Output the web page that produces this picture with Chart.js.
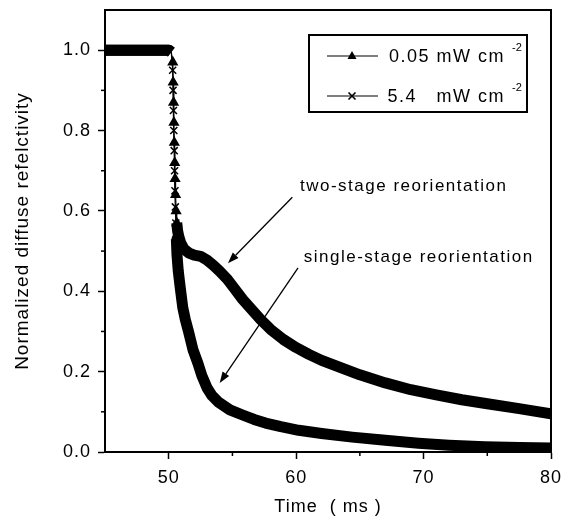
<!DOCTYPE html>
<html><head><meta charset="utf-8">
<script src="https://cdn.jsdelivr.net/npm/chart.js@4.4.1/dist/chart.umd.min.js"></script>
<style>html,body{margin:0;padding:0;background:#fff}#wrap{width:561px;height:520px;position:relative}</style>
</head><body><div id="wrap"><canvas id="c" width="561" height="520"></canvas></div>
<script>
// ---- data ----
const seriesLabels = ['0.05 mW cm', '5.4   mW cm'];
const unitSup = '-2';
const xTitle = 'Time  ( ms )';
const yTitle = 'Normalized diffuse refelctivity';
const timeLow = [45, 47, 49, 50, 50.2, 50.32, 50.35, 50.38, 50.41, 50.44, 50.47, 50.5, 50.54, 50.58, 50.63, 50.7, 50.8, 50.95, 51.2, 51.6, 52.0, 52.5, 53.0, 53.5, 54.0, 54.6, 55.2, 55.8, 56.5, 57.2, 58.0, 59.0, 60.0, 61.0, 62.0, 63.5, 65.0, 67.0, 69.0, 71.0, 73.0, 75.0, 77.5, 80.0];
const reflLow = [1.0, 1.0, 1.0, 1.0, 0.995, 0.97, 0.92, 0.87, 0.82, 0.77, 0.72, 0.68, 0.64, 0.60, 0.57, 0.55, 0.535, 0.52, 0.505, 0.495, 0.49, 0.487, 0.478, 0.465, 0.45, 0.43, 0.405, 0.38, 0.355, 0.33, 0.305, 0.28, 0.26, 0.243, 0.228, 0.21, 0.192, 0.172, 0.155, 0.142, 0.13, 0.12, 0.108, 0.095];
const timeHigh = [45, 47, 49, 50, 50.2, 50.31, 50.34, 50.37, 50.4, 50.43, 50.46, 50.49, 50.52, 50.56, 50.6, 50.65, 50.75, 50.9, 51.1, 51.3, 51.55, 51.9, 52.3, 52.6, 53.0, 53.4, 53.9, 54.8, 55.8, 56.7, 57.6, 58.8, 60.2, 62.0, 64.4, 67.0, 69.6, 72.0, 74.8, 77.5, 80.0];
const reflHigh = [1.0, 1.0, 1.0, 1.0, 0.995, 0.95, 0.90, 0.85, 0.80, 0.75, 0.70, 0.65, 0.61, 0.57, 0.53, 0.49, 0.45, 0.41, 0.36, 0.33, 0.30, 0.255, 0.22, 0.19, 0.16, 0.14, 0.124, 0.105, 0.092, 0.081, 0.072, 0.063, 0.054, 0.046, 0.037, 0.029, 0.022, 0.017, 0.013, 0.011, 0.01];
const xTicks = [50, 60, 70, 80];
const xMinorTicks = [55, 65, 75];
const yTicks = [0.0, 0.2, 0.4, 0.6, 0.8, 1.0];
const yMinorTicks = [0.1, 0.3, 0.5, 0.7, 0.9];
const annotationTexts = ['two-stage reorientation', 'single-stage reorientation'];

// ---- styling / layout ----
const FONT = "'Liberation Sans', Arial, Helvetica, sans-serif";
const annotations = [
  {text: annotationTexts[0], tx: 60.3, ty: 0.662, from: [59.7, 0.634], to: [54.65, 0.470]},
  {text: annotationTexts[1], tx: 60.6, ty: 0.485, from: [60.15, 0.458], to: [54.0, 0.172]}
];
const toPts = (xs, ys) => xs.map((x, i) => ({x, y: ys[i]}));

function makeDataset(label, xs, ys, style, cut) {
  return {
    label, data: toPts(xs, ys), showLine: true,
    borderColor: '#000', backgroundColor: '#000',
    borderWidth: 11, borderJoinStyle: 'round', borderCapStyle: 'butt',
    pointStyle: style,
    pointRadius: c => (c.raw && c.raw.y < 0.985 && c.raw.y > cut) ? 5 : 0,
    pointBorderWidth: 1.5,
    pointBorderColor: '#000', pointBackgroundColor: '#000',
    clip: 0,
    segment: {
      borderWidth: c => {
        const steep = Math.abs(c.p1.y - c.p0.y) > 3 * Math.abs(c.p1.x - c.p0.x);
        return (steep && ys[c.p1DataIndex] > cut) ? 1.2 : 11;
      }
    }
  };
}

function drawMarker(ctx, style, x, y, r) {
  ctx.beginPath();
  if (style === 'triangle') {
    ctx.moveTo(x, y - r);
    ctx.lineTo(x + r * 0.9, y + r * 0.6);
    ctx.lineTo(x - r * 0.9, y + r * 0.6);
    ctx.closePath();
    ctx.fill();
  } else {
    const d = r * 0.7;
    ctx.moveTo(x - d, y - d); ctx.lineTo(x + d, y + d);
    ctx.moveTo(x + d, y - d); ctx.lineTo(x - d, y + d);
    ctx.lineWidth = 1.6; ctx.stroke();
  }
}

const decoPlugin = {
  id: 'deco',
  beforeDraw(chart) { chart.ctx.letterSpacing = '1px'; },
  afterDraw(chart) {
    const {ctx, chartArea: a, scales: {x, y}} = chart;
    ctx.save();
    ctx.strokeStyle = '#000'; ctx.fillStyle = '#000';
    // frame (top/right)
    ctx.lineWidth = 2;
    ctx.beginPath();
    ctx.moveTo(a.left, a.top); ctx.lineTo(a.right, a.top); ctx.lineTo(a.right, a.bottom);
    ctx.stroke();
    // minor ticks
    ctx.lineWidth = 1.5;
    xMinorTicks.forEach(v => { const px = x.getPixelForValue(v); ctx.beginPath(); ctx.moveTo(px, a.bottom); ctx.lineTo(px, a.bottom + 4); ctx.stroke(); });
    yMinorTicks.forEach(v => { const py = y.getPixelForValue(v); ctx.beginPath(); ctx.moveTo(a.left, py); ctx.lineTo(a.left - 4, py); ctx.stroke(); });
    // legend
    const lx = a.left + 204, ly = a.top + 25, lw = 218, lh = 77;
    ctx.lineWidth = 2;
    ctx.strokeRect(lx, ly, lw, lh);
    const styles = ['triangle', 'crossRot'];
    const rowsY = [ly + 21, ly + 61];
    chart.data.datasets.forEach((ds, i) => {
      const ry = rowsY[i];
      ctx.lineWidth = 1.2;
      ctx.beginPath(); ctx.moveTo(lx + 18, ry); ctx.lineTo(lx + 69, ry); ctx.stroke();
      drawMarker(ctx, styles[i], lx + 43, ry, 5);
      ctx.letterSpacing = '1.5px';
      ctx.font = '18px ' + FONT;
      ctx.textAlign = 'right'; ctx.textBaseline = 'middle';
      ctx.fillText(ds.label, lx + 196, ry + 1);
      ctx.letterSpacing = '0px';
      ctx.font = '11px ' + FONT;
      ctx.textAlign = 'left';
      ctx.fillText(unitSup, lx + 203, ry - 8);
    });
    // annotations
    annotations.forEach(an => {
      ctx.letterSpacing = '1.5px';
      ctx.font = '17px ' + FONT;
      ctx.textAlign = 'left'; ctx.textBaseline = 'middle';
      ctx.fillText(an.text, x.getPixelForValue(an.tx), y.getPixelForValue(an.ty));
      const x0 = x.getPixelForValue(an.from[0]), y0 = y.getPixelForValue(an.from[1]);
      const x1 = x.getPixelForValue(an.to[0]), y1 = y.getPixelForValue(an.to[1]);
      const ang = Math.atan2(y1 - y0, x1 - x0);
      const hl = 11, hw = 4;
      const bx = x1 - hl * Math.cos(ang), by = y1 - hl * Math.sin(ang);
      ctx.lineWidth = 1.3;
      ctx.beginPath(); ctx.moveTo(x0, y0); ctx.lineTo(bx, by); ctx.stroke();
      ctx.beginPath();
      ctx.moveTo(x1, y1);
      ctx.lineTo(bx + hw * Math.sin(ang), by - hw * Math.cos(ang));
      ctx.lineTo(bx - hw * Math.sin(ang), by + hw * Math.cos(ang));
      ctx.closePath(); ctx.fill();
    });
    ctx.restore();
  }
};

Chart.defaults.color = '#000';
Chart.defaults.font.family = FONT;

new Chart(document.getElementById('c'), {
  type: 'scatter',
  data: {
    datasets: [
      makeDataset(seriesLabels[0], timeLow, reflLow, 'triangle', 0.56),
      makeDataset(seriesLabels[1], timeHigh, reflHigh, 'crossRot', 0.5)
    ]
  },
  options: {
    responsive: false, animation: false, devicePixelRatio: 1,
    layout: {padding: {left: 0, right: 10, top: 10, bottom: 0}},
    plugins: {legend: {display: false}, tooltip: {enabled: false}},
    scales: {
      x: {
        type: 'linear', min: 45, max: 80,
        afterBuildTicks: s => { s.ticks = xTicks.map(v => ({value: v})); },
        afterFit: s => { s.height = 68; s.paddingLeft = 0; s.paddingRight = 0; s.paddingTop = 0; s.paddingBottom = 0; },
        grid: {display: true, drawOnChartArea: false, drawTicks: true, tickLength: 7, tickColor: '#000', tickWidth: 1.5},
        border: {display: true, color: '#000', width: 2},
        ticks: {font: {size: 18}, padding: 8, maxRotation: 0, callback: v => String(v)},
        title: {display: true, text: xTitle, font: {size: 18}, padding: {top: 0, bottom: 2}}
      },
      y: {
        type: 'linear', min: 0, max: 1.1,
        afterBuildTicks: s => { s.ticks = yTicks.map(v => ({value: v})); },
        afterFit: s => { s.width = 105; s.paddingLeft = 0; s.paddingRight = 0; s.paddingTop = 0; s.paddingBottom = 0; },
        grid: {display: true, drawOnChartArea: false, drawTicks: true, tickLength: 7, tickColor: '#000', tickWidth: 1.5},
        border: {display: true, color: '#000', width: 2},
        ticks: {font: {size: 18}, padding: 7, callback: v => Number(v).toFixed(1)},
        title: {display: true, text: yTitle, font: {size: 19}, padding: {top: 11, bottom: 0}}
      }
    }
  },
  plugins: [decoPlugin]
});
</script>
</body></html>
